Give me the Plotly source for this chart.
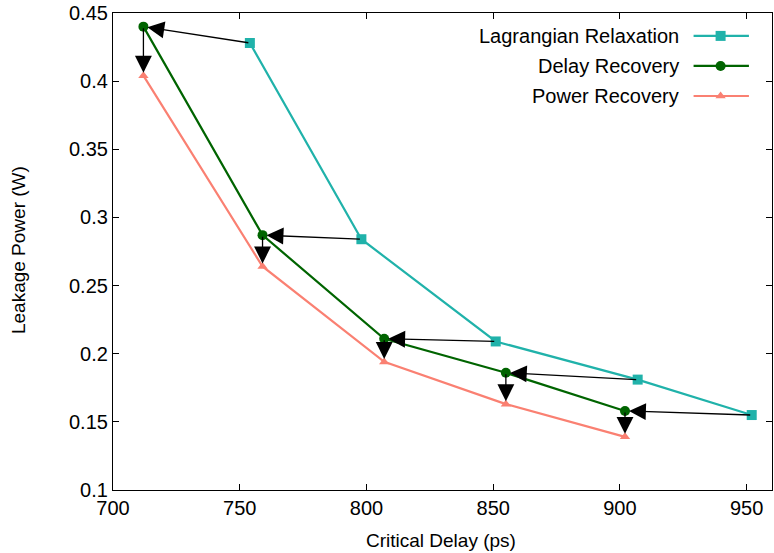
import plotly.graph_objects as go

# Data
lr_x = [754, 798, 851, 907, 952]
lr_y = [0.428, 0.284, 0.209, 0.181, 0.155]
dr_x = [712, 759, 807, 855, 902]
dr_y = [0.440, 0.287, 0.211, 0.186, 0.158]
pr_x = [712, 759, 807, 855, 902]
pr_y = [0.404, 0.264, 0.194, 0.163, 0.139]
names = ["Lagrangian Relaxation", "Delay Recovery", "Power Recovery"]
colors = ["#20B2AA", "#006400", "#FA8072"]
symbols = ["square", "circle", "triangle-up"]
x_ticks = [700, 750, 800, 850, 900, 950]
y_ticks = [0.1, 0.15, 0.2, 0.25, 0.3, 0.35, 0.4, 0.45]
y_ticktext = ["0.1", "0.15", "0.2", "0.25", "0.3", "0.35", "0.4", "0.45"]

FONT = "Liberation Sans, Arial, sans-serif"
FS = 20

fig = go.Figure()
series = [(lr_x, lr_y), (dr_x, dr_y), (pr_x, pr_y)]
sizes = [10, 10, 9]
for (xs, ys), n, c, s, sz in zip(series, names, colors, symbols, sizes):
    fig.add_trace(go.Scatter(x=xs, y=ys, mode="lines+markers", name=n,
                             line=dict(color=c, width=2.2),
                             marker=dict(symbol=s, size=sz, color=c),
                             showlegend=False))

# Arrows: Lagrangian -> Delay Recovery, Delay Recovery -> Power Recovery
for x0, y0, x1, y1 in zip(lr_x, lr_y, dr_x, dr_y):
    fig.add_annotation(x=x1, y=y1, ax=x0, ay=y0, xref="x", yref="y", axref="x", ayref="y",
                       showarrow=True, arrowhead=2, arrowsize=2.6, arrowwidth=1.3,
                       arrowcolor="black", standoff=4, text="")
for x0, y0, x1, y1 in zip(dr_x, dr_y, pr_x, pr_y):
    fig.add_annotation(x=x1, y=y1, ax=x0, ay=y0, xref="x", yref="y", axref="x", ayref="y",
                       showarrow=True, arrowhead=2, arrowsize=2.6, arrowwidth=1.3,
                       arrowcolor="black", standoff=3, text="")

# Manual legend (text left, sample right) on an overlay axis
leg_y = [0.952, 0.889, 0.826]
for n, c, s, sz, ly in zip(names, colors, symbols, sizes, leg_y):
    fig.add_trace(go.Scatter(x=[0.881, 0.965], y=[ly, ly], xaxis="x2", yaxis="y2",
                             mode="lines", line=dict(color=c, width=2.2),
                             showlegend=False, hoverinfo="skip"))
    fig.add_trace(go.Scatter(x=[0.922], y=[ly], xaxis="x2", yaxis="y2",
                             mode="markers", marker=dict(symbol=s, size=sz, color=c),
                             showlegend=False, hoverinfo="skip"))
    fig.add_annotation(x=0.862, y=ly, xref="x2", yref="y2", text=n, showarrow=False,
                       xanchor="right", yanchor="middle",
                       font=dict(family=FONT, size=FS, color="black"))

# Axis titles
fig.add_annotation(x=0.498, y=0, xref="paper", yref="paper", yshift=-50,
                   text="Critical Delay (ps)", showarrow=False, xanchor="center", yanchor="middle",
                   font=dict(family=FONT, size=FS - 1, color="black"))
fig.add_annotation(x=0, y=0.503, xref="paper", yref="paper", xshift=-95,
                   text="Leakage Power (W)", showarrow=False, textangle=-90,
                   xanchor="center", yanchor="middle",
                   font=dict(family=FONT, size=FS - 1, color="black"))

axis_common = dict(showline=True, linecolor="black", linewidth=1.2, mirror="ticks",
                   ticks="inside", ticklen=6, tickcolor="black", showgrid=False,
                   zeroline=False, automargin=False, ticklabeloverflow="allow",
                   tickfont=dict(family=FONT, size=FS, color="black"))

fig.update_layout(
    width=774, height=553,
    margin=dict(l=113, r=2, t=13, b=63),
    plot_bgcolor="white", paper_bgcolor="white",
    xaxis=dict(range=[700, 960], tickvals=x_ticks, **axis_common),
    yaxis=dict(range=[0.1, 0.45], tickvals=y_ticks, ticktext=y_ticktext, **axis_common),
    xaxis2=dict(overlaying="x", range=[0, 1], visible=False, anchor="y2"),
    yaxis2=dict(overlaying="y", range=[0, 1], visible=False, anchor="x2"),
    showlegend=False,
)

fig.write_html("out.html", config={"displayModeBar": False},
               post_script="document.body.style.margin='0';")
